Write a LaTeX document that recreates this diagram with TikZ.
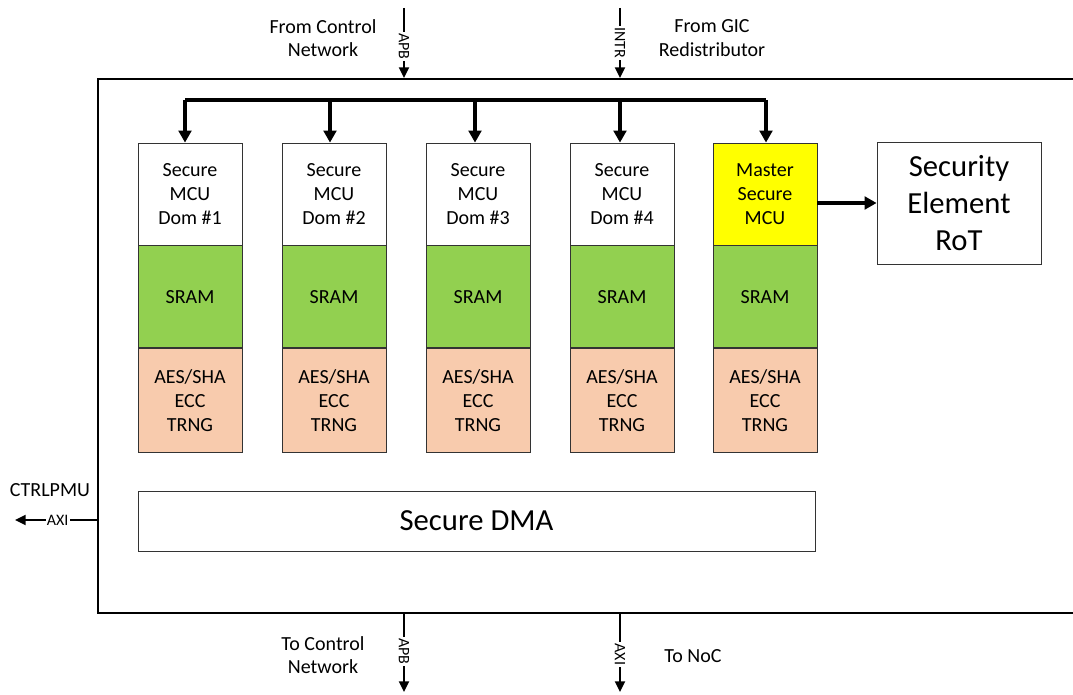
\documentclass[tikz,border=0pt]{standalone}
\usepackage{fontspec}
\setmainfont{Carlito}
\usetikzlibrary{arrows.meta,positioning}

\definecolor{sramgreen}{HTML}{92D050}
\definecolor{cryptopeach}{HTML}{F8CBAD}
\definecolor{masteryellow}{HTML}{FFFF00}

\tikzset{
  cell/.style={draw=black!80, line width=0.6pt, minimum width=78pt,
    minimum height=76.5pt, align=center, inner sep=0pt,
    font=\fontsize{15}{18}\selectfont},
  mcubox/.style={cell, fill=white},
  srambox/.style={cell, fill=sramgreen},
  cryptobox/.style={cell, fill=cryptopeach, minimum height=78pt},
  bigbox/.style={draw=black!80, line width=0.6pt, align=center,
    font=\fontsize{23}{28}\selectfont},
  bus/.style={line width=2.5pt, -{Triangle[length=9pt,width=9.5pt]}},
  busline/.style={line width=2.5pt},
  sig/.style={line width=1.5pt, -{Triangle[length=8pt,width=7.5pt]}},
  siglabel/.style={fill=white, rotate=-90, inner sep=1pt,
    font=\fontsize{12}{14}\selectfont},
  outerlabel/.style={align=center, font=\fontsize{15}{17.5}\selectfont}
}

\begin{document}
\begin{tikzpicture}[x=0.75pt,y=-0.75pt]
\useasboundingbox (0,0) rectangle (1073,695);

% outer block
\node[draw, line width=1.2pt, anchor=north west, minimum width=741pt,
  minimum height=400.5pt, inner sep=0pt] (soc) at (97,78) {};

% MCU columns
\foreach \i/\x in {1/190,2/334,3/478,4/622}{
  \node[mcubox] (mcu\i) at (\x,194) {Secure\\MCU\\Dom \#\i};
  \node[srambox, below=0pt of mcu\i] (sram\i) {SRAM};
  \node[cryptobox, below=0pt of sram\i] (crypto\i) {AES/SHA\\ECC\\TRNG};
}
\node[mcubox, fill=masteryellow] (mcu5) at (765,194) {Master\\Secure\\MCU};
\node[srambox, below=0pt of mcu5] (sram5) {SRAM};
\node[cryptobox, below=0pt of sram5] (crypto5) {AES/SHA\\ECC\\TRNG};

\node[bigbox, minimum width=123pt, minimum height=91.5pt] (rot) at (959,203)
  {Security\\Element\\RoT};
\node[bigbox, minimum width=507.75pt, minimum height=45pt] (dma) at (476.5,521)
  {Secure DMA};

% internal bus
\coordinate (bus1) at (185,100);
\coordinate (bus2) at (330,100);
\coordinate (bus3) at (475,100);
\coordinate (bus4) at (620,100);
\coordinate (bus5) at (766,100);
\draw[busline] (bus1) -- (bus5);
\foreach \i in {1,...,5}
  \draw[bus] (bus\i) -- (bus\i |- mcu\i.north);
\draw[bus] (mcu5.east |- rot.west) -- (rot.west);

% external interfaces
\coordinate (apbin) at (404,8);
\coordinate (intrin) at (620,8);
\coordinate (apbout) at (404,692);
\coordinate (axiout) at (620,692);
\coordinate (ctrlpmu) at (15,520);
\draw[sig] (apbin) -- node[siglabel, pos=0.55] {APB} (apbin |- soc.north);
\draw[sig] (intrin) -- node[siglabel, pos=0.5] {INTR} (intrin |- soc.north);
\draw[sig] (apbout |- soc.south) -- node[siglabel, pos=0.48] {APB} (apbout);
\draw[sig] (axiout |- soc.south) -- node[siglabel, pos=0.52] {AXI} (axiout);
\draw[sig] (soc.west |- ctrlpmu) -- node[fill=white, inner sep=1pt,
  font=\fontsize{12}{14}\selectfont, pos=0.48] {AXI} (ctrlpmu);

\node[outerlabel] (fromctrl) at (323,38) {From Control\\Network};
\node[outerlabel] (fromgic) at (712,38) {From GIC\\Redistributor};
\node[outerlabel] (toctrl) at (323,655) {To Control\\Network};
\node[outerlabel] (tonoc) at (693,656) {To NoC};
\node[outerlabel] (pmu) at (50,490) {CTRLPMU};
\end{tikzpicture}
\end{document}
